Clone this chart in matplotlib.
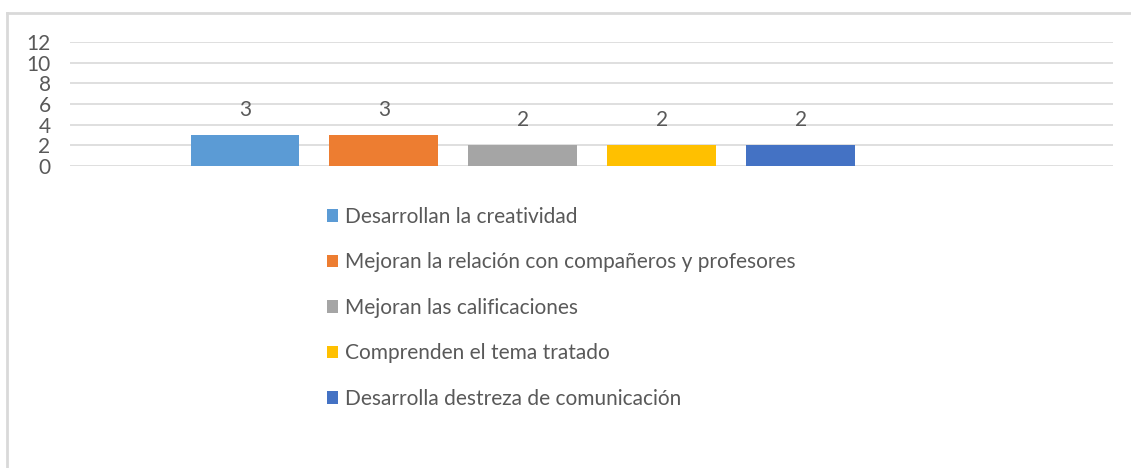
import matplotlib
matplotlib.use("Agg")
import matplotlib.pyplot as plt
from matplotlib.lines import Line2D

# datos
series = [
    "Desarrollan la creatividad",
    "Mejoran la relación con compañeros y profesores",
    "Mejoran las calificaciones",
    "Comprenden el tema tratado",
    "Desarrolla destreza de comunicación",
]
valores = [3, 3, 2, 2, 2]
colores = ["#5B9BD5", "#ED7D31", "#A5A5A5", "#FFC000", "#4472C4"]
yticks = [0, 2, 4, 6, 8, 10, 12]

plt.rcParams["font.family"] = ["Lato", "DejaVu Sans"]
TXT = "#595959"
W, H = 1131, 468

fig = plt.figure(figsize=(W / 100, H / 100), dpi=100)
ax = fig.add_axes([70 / W, 1 - 166 / H, (1113 - 70) / W, 124 / H])

handles = []
for i, (nombre, v, c) in enumerate(zip(series, valores, colores)):
    b = ax.bar(i, v, width=0.784, color=c, label=nombre, zorder=3)
    ax.bar_label(b, padding=11, fontsize=15, color=TXT)
    handles.append(b)

ax.set_xlim(-1.259, 6.245)
ax.set_ylim(0, 12)
ax.set_yticks(yticks)
ax.set_xticks([])
ax.grid(axis="y", color="#D9D9D9", linewidth=1.2, zorder=0)
for s in ax.spines.values():
    s.set_visible(False)
ax.tick_params(axis="y", length=0, pad=14, labelsize=15, labelcolor=TXT)

fig.legend(handles=handles, loc="upper left",
           bbox_to_anchor=(327 / W, 1 - 207 / H), frameon=False,
           fontsize=15, labelcolor=TXT, handlelength=0.55, handleheight=0.55,
           handletextpad=0.3, labelspacing=1.22, borderpad=0, borderaxespad=0)

# marco del grafico
fig.add_artist(Line2D([7 / W, 1.01], [1 - 13 / H, 1 - 13 / H], color="#D9D9D9", lw=2))
fig.add_artist(Line2D([7 / W, 7 / W], [1 - 13 / H, -0.01], color="#D9D9D9", lw=2))

fig.savefig("out.png", dpi=100)
